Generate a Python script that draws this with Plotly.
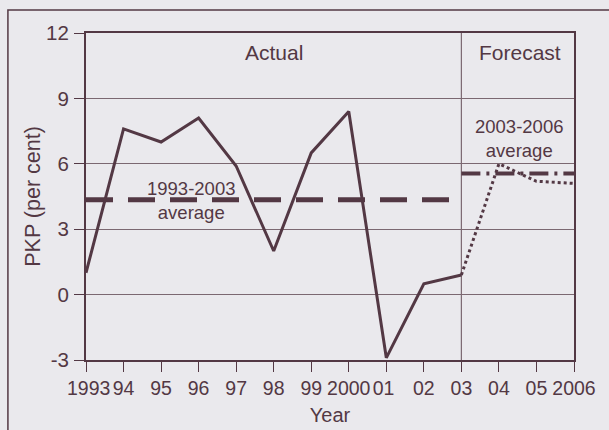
import plotly.graph_objects as go

years_actual = [1993, 1994, 1995, 1996, 1997, 1998, 1999, 2000, 2001, 2002, 2003]
pkp_actual = [1.0, 7.6, 7.0, 8.1, 5.9, 2.0, 6.5, 8.4, -2.9, 0.5, 0.9]
years_forecast = [2003, 2004, 2005, 2006]
pkp_forecast = [0.9, 6.0, 5.2, 5.1]
avg_years_1 = [1993, 2003]
avg_value_1 = 4.35
avg_years_2 = [2003, 2006]
avg_value_2 = 5.55
tick_years = list(range(1993, 2007))
NB = "\u00a0"
tick_labels = [NB + "1993", "94", "95", "96", "97", "98", "99",
               "2000", "01" + NB, "02", "03", "04", "05", "2006"]
y_ticks = [-3, 0, 3, 6, 9, 12]
y_tick_labels = ["-3", "0", "3", "6", "9", "12"]

INK = "#533844"
GRID = "#7b6871"
BG = "#eae9ed"
FONT = "Liberation Sans, Arial, sans-serif"

fig = go.Figure()
fig.add_trace(go.Scatter(x=avg_years_1, y=[avg_value_1] * 2, mode="lines",
                         line=dict(color=INK, width=5, dash="27px,15px"), showlegend=False))
fig.add_trace(go.Scatter(x=avg_years_2, y=[avg_value_2] * 2, mode="lines",
                         line=dict(color=INK, width=4, dash="19px,6px,3px,6px"), showlegend=False))
fig.add_trace(go.Scatter(x=years_actual, y=pkp_actual, mode="lines",
                         line=dict(color=INK, width=3), showlegend=False))
fig.add_trace(go.Scatter(x=years_forecast, y=pkp_forecast, mode="lines",
                         line=dict(color=INK, width=3, dash="dot"), showlegend=False))

fig.add_shape(type="line", xref="x", yref="y", x0=2003, x1=2003, y0=-3, y1=12,
              line=dict(color=GRID, width=1.2), layer="below")
# outer frame of the figure box
fig.add_shape(type="rect", xref="paper", yref="paper", x0=-0.16, x1=1.3, y0=-0.4, y1=1.07,
              line=dict(color=INK, width=1.5))

ann = dict(showarrow=False, font=dict(family=FONT, size=21, color=INK), xref="x", yref="y")
fig.add_annotation(x=1998.0, y=11.1, text="Actual", **ann)
fig.add_annotation(x=2004.56, y=11.1, text="Forecast", **ann)
ann2 = dict(showarrow=False, font=dict(family=FONT, size=18.5, color=INK), xref="x", yref="y")
fig.add_annotation(x=1995.8, y=4.31, text="1993-2003<br>average", **ann2)
fig.add_annotation(x=2004.53, y=7.16, text="2003-2006<br>average", **ann2)

fig.update_layout(
    width=609, height=430,
    margin=dict(l=86, r=35, t=33, b=70, autoexpand=False),
    paper_bgcolor=BG, plot_bgcolor=BG,
    font=dict(family=FONT, size=20, color=INK),
)
fig.update_xaxes(range=[1993, 2006], tickvals=tick_years, ticktext=tick_labels,
                 tickangle=0, automargin=False,
                 ticks="outside", ticklen=10, tickcolor=INK, tickwidth=1.2,
                 showline=True, linecolor=INK, linewidth=2, mirror=True,
                 showgrid=False, zeroline=False,
                 title=dict(text="Year", standoff=10, font=dict(size=20)),
                 tickfont=dict(size=19.5))
fig.update_yaxes(range=[-3, 12], tickvals=y_ticks, ticktext=y_tick_labels,
                 automargin=False,
                 ticks="outside", ticklen=10, tickcolor=INK, tickwidth=1.2,
                 showline=True, linecolor=INK, linewidth=2, mirror=True,
                 showgrid=True, gridcolor=GRID, gridwidth=1, zeroline=False,
                 ticklabelstandoff=1,
                 title=dict(text="PKP (per cent)", standoff=0, font=dict(size=21.5)),
                 tickfont=dict(size=20.5))

fig.write_html("out.html", config={"displayModeBar": False},
               post_script="document.body.style.margin='0';document.body.style.background='#eae9ed';")
